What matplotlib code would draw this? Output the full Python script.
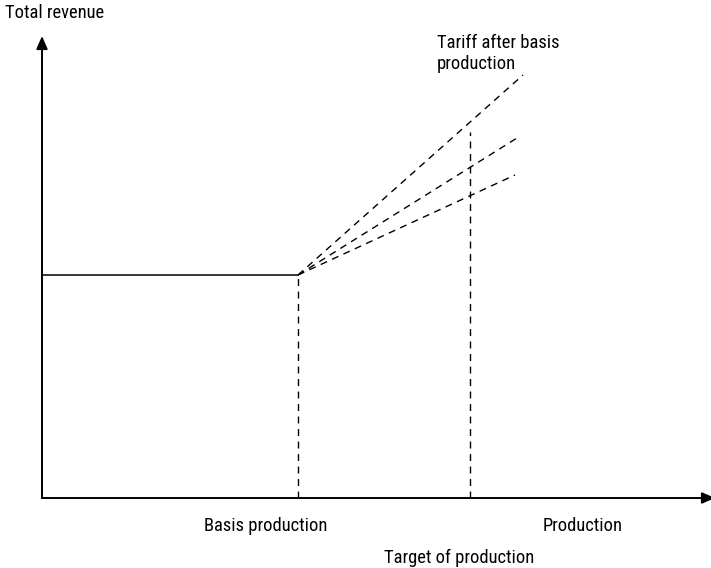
'''Revenue vs production: fixed revenue up to basis production, tariff beyond.'''

import matplotlib.pyplot as plt
from matplotlib import font_manager

# chart values (abstract units, origin at the axes corner)
basis_production = 256
target_production = 428
fixed_revenue = 223
tariff_end_x = [481, 475, 473]
tariff_end_revenue = [423, 360, 323]
target_top = 366
x_axis_end = 673
y_axis_end = 462

labels = {
    'y': 'Total revenue',
    'tariff': 'Tariff after basis\nproduction',
    'basis': 'Basis production',
    'x': 'Production',
    'target': 'Target of production',
}

names = {f.name for f in font_manager.fontManager.ttflist}
if 'Liberation Sans Narrow' in names:
    font = dict(family='Liberation Sans Narrow', fontsize=13)
elif 'Roboto Condensed' in names:
    font = dict(family='Roboto Condensed', fontsize=13.3)
else:
    font = dict(family='DejaVu Sans', fontstretch='condensed', fontsize=11.5)

fig = plt.figure(figsize=(7.11, 5.68), dpi=100)
ax = fig.add_axes([0, 0, 1, 1])
ax.set_xlim(-42, 669)
ax.set_ylim(-70, 498)
ax.axis('off')

arrow = dict(arrowstyle='-|>,head_length=0.55,head_width=0.24', color='black',
             lw=1.4, mutation_scale=14, shrinkA=0, shrinkB=0)
ax.annotate('', xy=(x_axis_end, 0), xytext=(0, 0), arrowprops=arrow,
            annotation_clip=False)
ax.annotate('', xy=(0, y_axis_end), xytext=(0, 0), arrowprops=arrow)

dash = dict(color='black', lw=1.0, ls=(0, (5, 4)))
ax.plot([0, basis_production], [fixed_revenue, fixed_revenue], color='black', lw=1.1)
ax.plot([basis_production, basis_production], [0, fixed_revenue], **dash)
ax.plot([target_production, target_production], [0, target_top], **dash)
for ex, ey in zip(tariff_end_x, tariff_end_revenue):
    ax.plot([basis_production, ex], [fixed_revenue, ey], **dash)

ax.text(-37, 494, labels['y'], ha='left', va='top', **font)
ax.text(395, 464, labels['tariff'], ha='left', va='top', linespacing=1.2, **font)
ax.text(224, -28, labels['basis'], ha='center', va='center', **font)
ax.text(541, -28, labels['x'], ha='center', va='center', **font)
ax.text(417, -60, labels['target'], ha='center', va='center', **font)

fig.savefig('out.png', dpi=100)
